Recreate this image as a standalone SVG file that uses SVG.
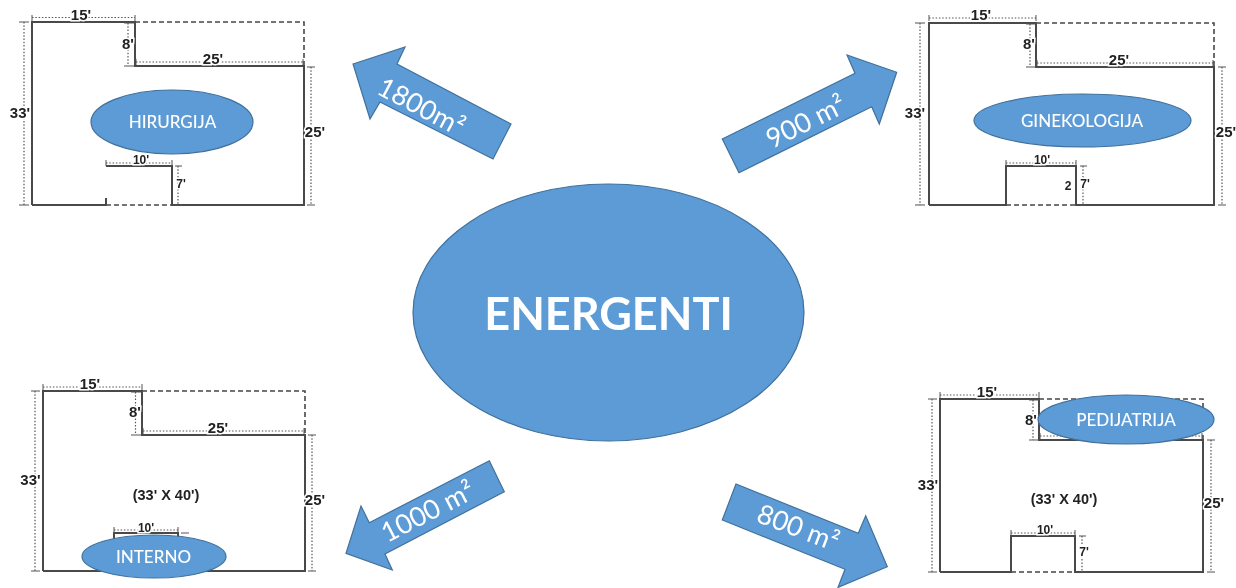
<svg xmlns="http://www.w3.org/2000/svg" width="1236" height="588" viewBox="0 0 1236 588">
<style>
.wall{fill:none;stroke:#484848;stroke-width:2}
.open{fill:none;stroke:#484848;stroke-width:1.6;stroke-dasharray:5 3}
.dim{fill:none;stroke:#555;stroke-width:1.2;stroke-dasharray:1.5 1.8}
.tick{fill:none;stroke:#555;stroke-width:1}
.lbl{font-family:"Liberation Sans",Arial,sans-serif;font-weight:700;font-size:15px;fill:#222;text-anchor:middle;paint-order:stroke;stroke:#fff;stroke-width:3px}
.sm{font-size:12px}
.sz{font-size:14.5px;stroke:none}
.shape{fill:#5B9BD5;stroke:#41719C;stroke-width:1.2}
.name{font-family:Lato,"Open Sans",sans-serif;font-size:17px;fill:#fff;text-anchor:middle;font-weight:500}
.area{font-family:Lato,"Open Sans",sans-serif;font-size:27px;fill:#fff;text-anchor:middle}
.title{font-family:Lato,"Open Sans",sans-serif;font-size:45px;font-weight:700;fill:#fff;text-anchor:middle}
</style>
<defs><filter id="soft" x="-5%" y="-5%" width="110%" height="110%"><feGaussianBlur stdDeviation="0.45"/></filter></defs>
<rect width="1236" height="588" fill="#fff"/>
<g filter="url(#soft)">
<g id="hirurgija">
<path class="wall" d="M32 205V22H135V66H304V205H172V166H106M106 198V205H32"/>
<path class="open" d="M135 22H304V66M106 205H172"/>
<path class="dim" d="M32 17.500H135M24 22V205M128 23V66M136 62H303M311 67V205M106 163H172M178 166V205"/>
<path class="tick" d="M32 15V21M135 15V21M19 22H29M19 205H29M124 23H134M124 66H134M136 59V65M303 59V65M307 67H315M307 205H315M106 160V166M172 160V166M175 166H182M175 205H182"/>
<text class="lbl" x="81" y="20">15'</text><text class="lbl" x="20" y="118">33'</text><text class="lbl" x="128" y="49">8'</text><text class="lbl" x="213" y="64">25'</text><text class="lbl" x="315" y="137">25'</text><text class="lbl sm" x="141" y="164">10'</text><text class="lbl sm" x="181" y="188">7'</text>
<ellipse class="shape" cx="172" cy="122" rx="81" ry="32"/>
<text class="name" x="172.500" y="128">HIRURGIJA</text>
</g>
<g id="ginekologija">
<path class="wall" d="M929 205V23H1036V67H1214V205H1076V166H1006V205H929"/>
<path class="open" d="M1036 23H1214V67M1006 205H1076"/>
<path class="dim" d="M929 18H1036M920 23V205M1030 24V67M1037 63H1213M1222 67V205M1006 163H1076M1083 166V205"/>
<path class="tick" d="M929 15V21M1036 15V21M915 23H925M915 205H925M1026 24H1036M1026 67H1036M1037 60V66M1213 60V66M1218 67H1226M1218 205H1226M1006 160V166M1076 160V166M1080 166H1087M1080 205H1087"/>
<text class="lbl" x="981" y="20">15'</text><text class="lbl" x="915" y="118">33'</text><text class="lbl" x="1029" y="49">8'</text><text class="lbl" x="1119" y="65">25'</text><text class="lbl" x="1226" y="137">25'</text><text class="lbl sm" x="1042" y="164">10'</text><text class="lbl sm" x="1085" y="188">7'</text>
<text class="lbl sm" style="stroke:none" x="1068" y="190">2</text>
<ellipse class="shape" cx="1082.500" cy="120.500" rx="108.500" ry="26.500"/>
<text class="name" x="1082" y="127">GINEKOLOGIJA</text>
</g>
<g id="interno">
<path class="wall" d="M43 571V391H142V435H305V571H178V533H114V571H43"/>
<path class="open" d="M142 391H305V435M114 571H178"/>
<path class="dim" d="M43 387H142M35 391V571M135.500 392V435M143 431H304M312 435V571M114 530H178"/>
<path class="tick" d="M43 384V390M142 384V390M31 391H40M31 571H40M131 392H141M131 435H141M143 428V434M304 428V434M308 435H316M308 571H316M114 527V533M178 527V533M181 533H189"/>
<text class="lbl" x="90" y="389">15'</text><text class="lbl" x="30.500" y="485">33'</text><text class="lbl" x="135" y="417">8'</text><text class="lbl" x="218" y="433">25'</text><text class="lbl" x="315" y="505">25'</text><text class="lbl sm" x="146" y="532">10'</text>
<text class="lbl sz" x="166" y="500">(33' X 40')</text>
<ellipse class="shape" cx="154" cy="556.500" rx="72" ry="21.500"/>
<text class="name" x="153.500" y="563">INTERNO</text>
</g>
<g id="pedijatrija">
<path class="wall" d="M940 572V399H1039V440H1203V572H1075V536H1011V572H940"/>
<path class="open" d="M1039 399H1203V440M1011 572H1075"/>
<path class="dim" d="M940 395H1039M932 399V572M1033 400V440M1040 436H1202M1211 440V572M1011 533H1075M1082 536V572"/>
<path class="tick" d="M940 392V398M1039 392V398M928 399H937M928 572H937M1029 400H1039M1029 440H1039M1040 433V439M1202 433V439M1207 440H1215M1207 572H1215M1011 530V536M1075 530V536M1079 536H1086M1079 572H1086"/>
<text class="lbl" x="987" y="397">15'</text><text class="lbl" x="928" y="490">33'</text><text class="lbl" x="1031" y="425">8'</text><text class="lbl" x="1214" y="508">25'</text><text class="lbl sm" x="1045" y="534">10'</text><text class="lbl sm" x="1084" y="556">7'</text>
<text class="lbl sz" x="1064" y="504">(33' X 40')</text>
<ellipse class="shape" cx="1126" cy="419.500" rx="88" ry="24.500"/>
<text class="name" x="1126" y="425.500">PEDIJATRIJA</text>
</g>
<g id="energenti">
<ellipse class="shape" cx="608.500" cy="312.500" rx="195.500" ry="128.500"/>
<text class="title" x="608.500" y="330">ENERGENTI</text>
</g>
<g id="connectors">
<path class="shape" d="M353 64L405 47L397 64L511 124L493 159L380 102L370 119Z"/>
<text class="area" transform="translate(421 107) rotate(28)" y="9">1800m²</text>
<path class="shape" d="M722.300 139L739 172.700L871.700 106.700L879.300 124L896.700 72.300L847 55L855 73.300Z"/>
<text class="area" transform="translate(806 122) rotate(-26.500)" y="9">900 m²</text>
<path class="shape" d="M489.300 460.700L504.300 491.700L385 554L392.300 570L346 553.300L361 506L369.300 522.700Z"/>
<text class="area" transform="translate(428 512) rotate(-27.300)" y="9">1000 m²</text>
<path class="shape" d="M736 484L722.300 520L845 569.300L838 587.300L887.300 566.700L865.700 515.700L858.300 533.300Z"/>
<text class="area" transform="translate(798 528) rotate(21)" y="9">800 m²</text>
</g>
</g>
</svg>
